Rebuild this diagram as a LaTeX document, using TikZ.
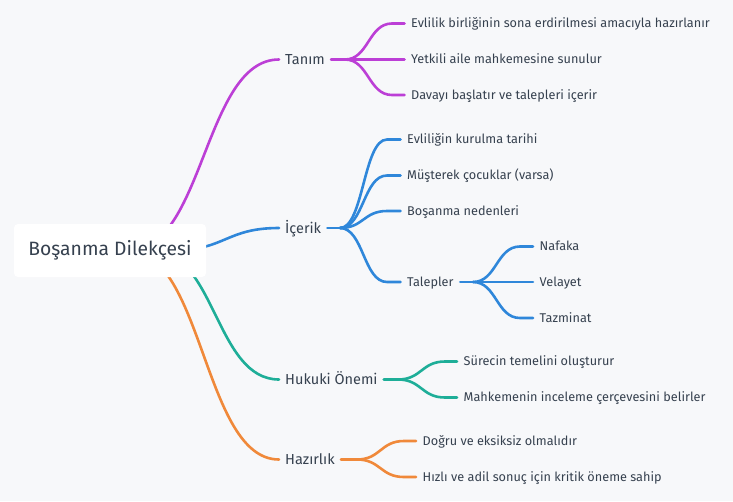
\documentclass[tikz,border=0pt]{standalone}
\usepackage{fontspec}
\setmainfont{Fira Sans}
\definecolor{bgc}{HTML}{F7F8FA}
\definecolor{txt}{HTML}{36414F}
\definecolor{magc}{HTML}{BC3FD6}
\definecolor{bluc}{HTML}{2F87DA}
\definecolor{tealc}{HTML}{1EAE98}
\definecolor{orgc}{HTML}{F0893A}
\pgfdeclarelayer{bgl}
\pgfdeclarelayer{links}
\pgfsetlayers{bgl,links,main}
\begin{document}
\begin{tikzpicture}[x=1pt,y=-1pt,
  link/.style={line width=2.6pt, line cap=round},
  rootbox/.style={fill=white, rounded corners=4pt, minimum width=192pt, minimum height=53pt,
    inner sep=0pt, font=\fontsize{19.3}{22}\selectfont, text=txt},
  lvlone/.style={anchor=west, inner xsep=6pt, inner ysep=0pt, text height=10pt, text depth=0pt,
    font=\fontsize{14.5}{17}\selectfont, text=txt},
  leaf/.style={anchor=west, inner xsep=6.5pt, inner ysep=0pt, text height=8.75pt, text depth=0pt,
    font=\fontsize{12.7}{15}\selectfont, text=txt}]
\useasboundingbox (0,0) rectangle (733,501);
\begin{pgfonlayer}{bgl}
  \fill[bgc] (0,0) rectangle (733,501);
\end{pgfonlayer}

\node[rootbox] (root) at (110,250.5) {Boşanma Dilekçesi};

\node[lvlone] (tanim) at (279,59.5) {Tanım};
\node[lvlone] (icerik) at (279,228) {İçerik};
\node[lvlone] (hukuki) at (279,379.5) {Hukuki Önemi};
\node[lvlone] (hazir) at (279,459.5) {Hazırlık};

\node[leaf] (t1) at (404.5,23.5) {Evlilik birliğinin sona erdirilmesi amacıyla hazırlanır};
\node[leaf] (t2) at (404.5,59.5) {Yetkili aile mahkemesine sunulur};
\node[leaf] (t3) at (404.5,95) {Davayı başlatır ve talepleri içerir};
\node[leaf] (i1) at (400.5,139.5) {Evliliğin kurulma tarihi};
\node[leaf] (i2) at (400.5,175.5) {Müşterek çocuklar (varsa)};
\node[leaf] (i3) at (400.5,211) {Boşanma nedenleri};
\node[leaf] (tal) at (400.5,282) {Talepler};
\node[leaf] (n1) at (533,246.5) {Nafaka};
\node[leaf] (n2) at (533,282) {Velayet};
\node[leaf] (n3) at (533,318) {Tazminat};
\node[leaf] (h1) at (457,361.5) {Sürecin temelini oluşturur};
\node[leaf] (h2) at (457,397.5) {Mahkemenin inceleme çerçevesini belirler};
\node[leaf] (z1) at (416,441) {Doğru ve eksiksiz olmalıdır};
\node[leaf] (z2) at (416,477) {Hızlı ve adil sonuç için kritik öneme sahip};

% junctions and curve-end columns
\coordinate (jt) at (345,59.5);   \coordinate (tce) at (392,0);
\coordinate (ji) at (340,228);    \coordinate (ice) at (387,0);
\coordinate (jtal) at (473,282);  \coordinate (talce) at (520,0);
\coordinate (jh) at (398,379.5);  \coordinate (hce) at (445,0);
\coordinate (jz) at (357,459.5);  \coordinate (zce) at (404,0);

\begin{pgfonlayer}{links}
  % root to level one
  \draw[link,magc] ([xshift=19pt]root.center) .. controls +(75,0) and +(-75,0) .. (tanim.west);
  \draw[link,bluc] ([xshift=62pt]root.center) .. controls +(53.5,0) and +(-53.5,0) .. (icerik.west);
  \draw[link,tealc] ([xshift=42pt]root.center) .. controls +(63.5,0) and +(-63.5,0) .. (hukuki.west);
  \draw[link,orgc] ([xshift=18pt]root.center) .. controls +(75.5,0) and +(-75.5,0) .. (hazir.west);
  % Tanim
  \draw[link,magc] (tanim.east) -- (jt);
  \foreach \c in {t1,t2,t3}
    \draw[link,magc] (jt) .. controls +(23.5,0) and +(-23.5,0) .. (tce |- \c.west) -- (\c.west);
  % Icerik
  \draw[link,bluc] (icerik.east) -- (ji);
  \foreach \c in {i1,i2,i3,tal}
    \draw[link,bluc] (ji) .. controls +(23.5,0) and +(-23.5,0) .. (ice |- \c.west) -- (\c.west);
  % Talepler
  \draw[link,bluc] (tal.east) -- (jtal);
  \foreach \c in {n1,n2,n3}
    \draw[link,bluc] (jtal) .. controls +(23.5,0) and +(-23.5,0) .. (talce |- \c.west) -- (\c.west);
  % Hukuki
  \draw[link,tealc] (hukuki.east) -- (jh);
  \foreach \c in {h1,h2}
    \draw[link,tealc] (jh) .. controls +(23.5,0) and +(-23.5,0) .. (hce |- \c.west) -- (\c.west);
  % Hazirlik
  \draw[link,orgc] (hazir.east) -- (jz);
  \foreach \c in {z1,z2}
    \draw[link,orgc] (jz) .. controls +(23.5,0) and +(-23.5,0) .. (zce |- \c.west) -- (\c.west);
\end{pgfonlayer}
\end{tikzpicture}
\end{document}
